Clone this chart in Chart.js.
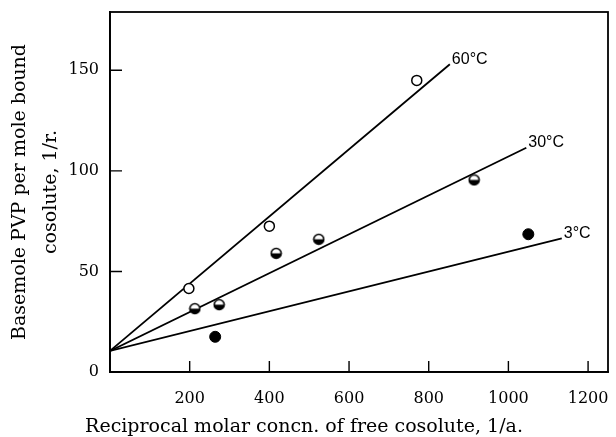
<!DOCTYPE html>
<html>
<head>
<meta charset="utf-8">
<script src="https://cdn.jsdelivr.net/npm/chart.js@4/dist/chart.umd.min.js"></script>
<style>
  html, body { margin: 0; padding: 0; background: #fff; }
  #wrap { width: 616px; height: 437px; }
  canvas { background: #fff; }
</style>
</head>
<body>
<div id="wrap"><canvas id="c" width="616" height="437"></canvas></div>
<script>
// ---- data ----
const x60 = [198, 400, 770];
const y60 = [41.5, 72.5, 145];
const x30 = [213, 274, 417, 524, 914];
const y30 = [31.5, 33.5, 59, 66, 95.5];
const x3 = [264, 1050];
const y3 = [17.5, 68.5];

// fitted straight lines (start and end as drawn)
const fitX60 = [0, 853];
const fitY60 = [10.5, 153];
const fitX30 = [0, 1045];
const fitY30 = [10.5, 111.5];
const fitX3 = [0, 1134];
const fitY3 = [10.5, 66.5];

const lineLabels = ['60°C', '30°C', '3°C'];
const xTickValues = [200, 400, 600, 800, 1000, 1200];
const yTickValues = [0, 50, 100, 150];

const xTitle = 'Reciprocal molar concn. of free cosolute, 1/a.';
const yTitle = ['Basemole PVP per mole bound', 'cosolute, 1/r.'];

const pts = (xs, ys) => xs.map((x, i) => ({ x: x, y: ys[i] }));

// half-filled marker (top white, bottom black)
function halfMarker() {
  const c = document.createElement('canvas');
  c.width = 13; c.height = 13;
  const g = c.getContext('2d');
  const cx = 6.5, cy = 6.5, r = 5;
  g.fillStyle = '#fff';
  g.beginPath(); g.arc(cx, cy, r, 0, Math.PI * 2); g.fill();
  g.fillStyle = '#000';
  g.beginPath(); g.arc(cx, cy, r, 0, Math.PI); g.closePath(); g.fill();
  g.strokeStyle = '#000'; g.lineWidth = 1.6;
  g.beginPath(); g.arc(cx, cy, r, 0, Math.PI * 2); g.stroke();
  return c;
}

const frameAndTicks = {
  id: 'frameAndTicks',
  afterDatasetsDraw(chart) {
    const { ctx, chartArea: a, scales } = chart;
    ctx.save();
    ctx.strokeStyle = '#000';
    ctx.lineWidth = 1.8;
    ctx.strokeRect(a.left, a.top, a.right - a.left, a.bottom - a.top);
    ctx.lineWidth = 1.4;
    ctx.beginPath();
    xTickValues.forEach(v => {
      const px = scales.x.getPixelForValue(v);
      ctx.moveTo(px, a.bottom); ctx.lineTo(px, a.bottom - 11);
    });
    yTickValues.forEach(v => {
      const py = scales.y.getPixelForValue(v);
      ctx.moveTo(a.left, py); ctx.lineTo(a.left + 12, py);
    });
    ctx.stroke();
    // line labels at end of each fitted line
    ctx.fillStyle = '#000';
    ctx.font = '16px "Liberation Sans", Arial, sans-serif';
    ctx.textAlign = 'left';
    ctx.textBaseline = 'middle';
    const ends = [[fitX60[1], fitY60[1]], [fitX30[1], fitY30[1]], [fitX3[1], fitY3[1]]];
    ends.forEach((e, i) => {
      const px = scales.x.getPixelForValue(e[0]);
      const py = scales.y.getPixelForValue(e[1]);
      ctx.fillText(lineLabels[i], px + 2, py - 5);
    });
    ctx.restore();
  }
};

const lineDs = (xs, ys) => ({
  data: pts(xs, ys), showLine: true, borderColor: '#000', borderWidth: 1.8,
  pointRadius: 0, fill: false, order: 2
});

new Chart(document.getElementById('c'), {
  type: 'scatter',
  data: {
    datasets: [
      lineDs(fitX60, fitY60),
      lineDs(fitX30, fitY30),
      lineDs(fitX3, fitY3),
      { data: pts(x60, y60), pointStyle: 'circle', pointRadius: 5, pointBorderWidth: 1.5,
        pointBackgroundColor: '#fff', pointBorderColor: '#000', order: 1 },
      { data: pts(x30, y30), pointStyle: halfMarker(), pointRadius: 5, order: 1 },
      { data: pts(x3, y3), pointStyle: 'circle', pointRadius: 5.5, pointBorderWidth: 1,
        pointBackgroundColor: '#000', pointBorderColor: '#000', order: 1 }
    ]
  },
  options: {
    responsive: false,
    animation: false,
    layout: { padding: { top: 12, right: 8, left: 0, bottom: 0 } },
    plugins: {
      legend: { display: false },
      tooltip: { enabled: false },
      title: {
        display: true, position: 'bottom', text: xTitle, color: '#000',
        font: { family: '"DejaVu Serif", serif', size: 19, weight: 'normal', lineHeight: 1.05 },
        padding: { top: 8, bottom: 0 }
      }
    },
    scales: {
      x: {
        type: 'linear', min: 0, max: 1250,
        afterFit(s) { s.height = 437 - 372 - 27.95; s.paddingLeft = 0; s.paddingRight = 0; },
        grid: { display: false, drawTicks: false },
        border: { display: true, color: '#000', width: 1.8 },
        ticks: {
          stepSize: 200, includeBounds: false, color: '#000', padding: 17, maxRotation: 0,
          font: { family: '"DejaVu Serif", serif', size: 16 },
          callback: v => (v === 0 ? '' : String(v))
        }
      },
      y: {
        type: 'linear', min: 0, max: 179,
        afterFit(s) { s.width = 110; s.paddingTop = 0; s.paddingBottom = 0; },
        grid: { display: false, drawTicks: false },
        border: { display: true, color: '#000', width: 1.8 },
        ticks: {
          stepSize: 50, includeBounds: false, color: '#000', padding: 11,
          font: { family: '"DejaVu Serif", serif', size: 16 }
        },
        title: {
          display: true, text: yTitle, color: '#000',
          font: { family: '"DejaVu Serif", serif', size: 19, lineHeight: 1.6 },
          padding: { top: 5, bottom: 0 }
        }
      }
    }
  },
  plugins: [frameAndTicks]
});
</script>
</body>
</html>
